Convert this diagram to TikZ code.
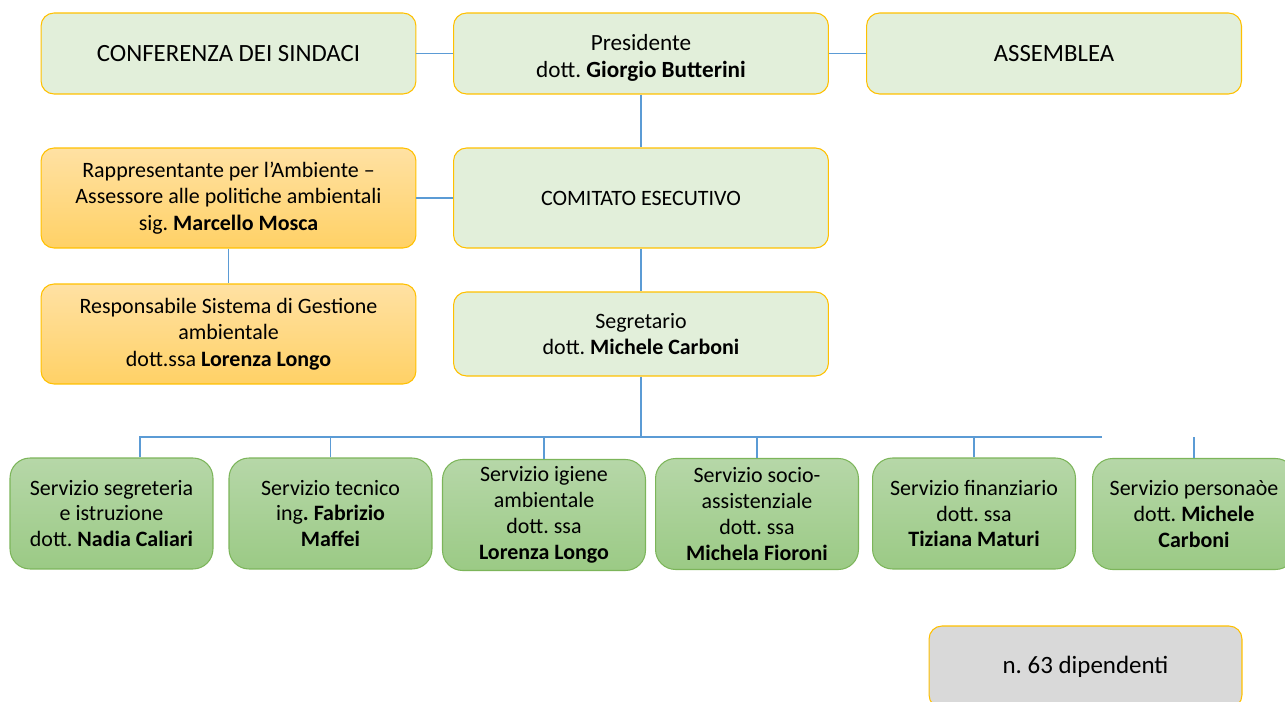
\documentclass[tikz,border=0pt]{standalone}
\usepackage{fontspec}
\setmainfont{Carlito}
\frenchspacing
\usepackage{tikz}
\definecolor{boxgreen}{HTML}{E2EFDA}
\definecolor{gold}{HTML}{FFC000}
\definecolor{orangetop}{HTML}{FFE1A3}
\definecolor{orangebot}{HTML}{FFD166}
\definecolor{servtop}{HTML}{B6D7A8}
\definecolor{servbot}{HTML}{9BCA85}
\definecolor{servline}{HTML}{7CB55A}
\definecolor{grigio}{HTML}{D9D9D9}
\definecolor{linkblue}{HTML}{5B9BD5}
\tikzset{
  ente/.style={draw=gold, fill=boxgreen, line width=0.6pt, rounded corners=0.26cm,
    minimum width=7.5cm, minimum height=1.62cm, inner sep=0pt, align=center,
    font=\fontsize{14.1}{15.3}\selectfont},
  ambiente/.style={ente, top color=orangetop, bottom color=orangebot,
    minimum height=2cm, font=\fontsize{12.5}{15.1}\selectfont},
  servizio/.style={draw=servline, top color=servtop, bottom color=servbot,
    line width=0.6pt, rounded corners=0.4cm, minimum width=4.06cm,
    minimum height=2.22cm, inner sep=0pt, align=center,
    font=\fontsize{12.5}{14.7}\selectfont},
  link/.style={draw=linkblue, line width=0.6pt}
}

\begin{document}
\begin{tikzpicture}[x=0.02cm, y=-0.02cm]
\useasboundingbox (0,0) rectangle (1285,702);

% vertici
\node [ente] (conf) at (228.5,53.5) {CONFERENZA DEI SINDACI};
\node [ente, font=\fontsize{13.2}{15.3}\selectfont] (pres) at (641,53.5) {\rule{0pt}{14pt}Presidente\\dott. \textbf{Giorgio Butterini}};
\node [ente] (assem) at (1054,53.5) {ASSEMBLEA};
\node [ambiente] (rapp) at (228.5,198) {Rappresentante per l’Ambiente –\\Assessore alle politiche ambientali\\sig. \textbf{Marcello Mosca}};
\node [ente, minimum height=2cm, font=\fontsize{12.5}{15}\selectfont] (comit) at (641,198) {COMITATO ESECUTIVO};
\node [ambiente] (resp) at (228.5,334) {Responsabile Sistema di Gestione\\ambientale\\dott.ssa \textbf{Lorenza Longo}};
\node [ente, minimum height=1.68cm, font=\fontsize{12.5}{15}\selectfont] (segr) at (641,334) {Segretario\\dott. \textbf{Michele Carboni}};

% servizi
\node [servizio] (s1) at (111.5,513.5) {Servizio segreteria\\e istruzione\\dott. \textbf{Nadia Caliari}};
\node [servizio] (s2) at (330.5,513.5) {Servizio tecnico\\ing\textbf{. Fabrizio}\\\textbf{Maffei}};
\node [servizio] (s3) at (544,515) {Servizio igiene\\ambientale\\dott. ssa\\\textbf{Lorenza Longo}};
\node [servizio] (s4) at (757,514) {Servizio socio-\\assistenziale\\dott. ssa\\\textbf{Michela Fioroni}};
\node [servizio] (s5) at (974,513.5) {Servizio finanziario\\dott. ssa\\\textbf{Tiziana Maturi}};
\node [servizio] (s6) at (1194,514) {Servizio personaòe\\dott. \textbf{Michele}\\\textbf{Carboni}};

\node [ente, fill=grigio, minimum width=6.26cm, minimum height=1.64cm, font=\fontsize{14.2}{15}\selectfont] (dip) at (1085.5,667) {n. 63 dipendenti};

% collegamenti
\coordinate (busL) at (140,437);
\coordinate (busR) at (1102,437);
\draw [link] (conf) -- (pres);
\draw [link] (pres) -- (assem);
\draw [link] (pres) -- (comit);
\draw [link] (rapp) -- (comit);
\draw [link] (rapp) -- (resp);
\draw [link] (comit) -- (segr);
\draw [link] (segr.south) -- (segr.south |- busL);
\draw [link] (busL |- s1.north) -- (busL) -- (busR);
\draw [link] (s2.north) -- (s2.north |- busL);
\draw [link] (s3.north) -- (s3.north |- busL);
\draw [link] (s4.north) -- (s4.north |- busL);
\draw [link] (s5.north) -- (s5.north |- busL);
\draw [link] (s6.north) -- (s6.north |- busL);

\end{tikzpicture}
\end{document}
